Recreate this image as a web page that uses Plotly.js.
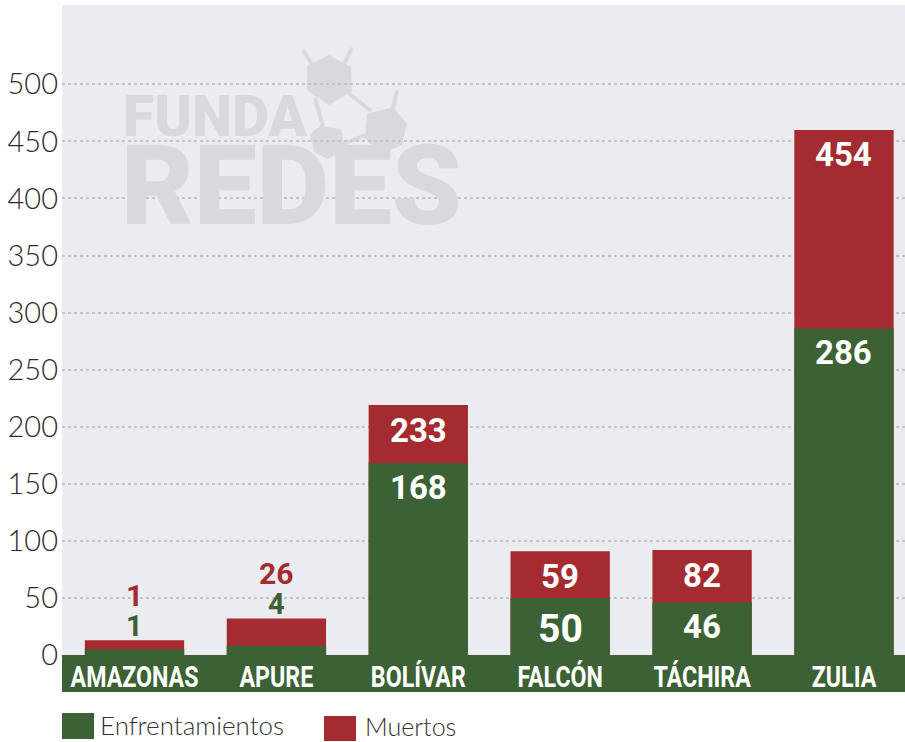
<!DOCTYPE html>
<html><head><meta charset="utf-8">
<script src="https://cdn.plot.ly/plotly-3.0.1.min.js"></script>
<style>html,body{margin:0;padding:0;background:#fff}#chart{width:905px;height:742px}</style>
</head><body><div id="chart"></div>
<script>
// ---- data ----
const categories = ['AMAZONAS', 'APURE', 'BOLÍVAR', 'FALCÓN', 'TÁCHIRA', 'ZULIA'];
// printed values
const enfrentamientos = [1, 4, 168, 50, 46, 286];
const muertos = [1, 26, 233, 59, 82, 454];
// bar heights as drawn in the picture (read against the gridlines)
const enfrentamientosBar = [5, 8, 168, 50, 46, 286];
const muertosBar = [13, 32, 219, 91, 92, 460];
const yTicks = [0, 50, 100, 150, 200, 250, 300, 350, 400, 450, 500];
const seriesNames = ['Enfrentamientos', 'Muertos'];

// ---- styling ----
const GREEN = '#3c6135', RED = '#a42c30', BG = '#ebecf0', WM = '#d8d9dd';
const W = 905, H = 742, L = 62, R = 0, T = 5, B = 87;
const pw = W - L - R, ph = H - T - B;
const px = x => (x - L) / pw;
const py = y => (H - B - y) / ph;

const traces = [
  {type: 'bar', name: seriesNames[1], x: categories, y: muertosBar,
   marker: {color: RED}, width: 0.7, hoverinfo: 'skip', showlegend: false},
  {type: 'bar', name: seriesNames[0], x: categories, y: enfrentamientosBar,
   marker: {color: GREEN}, width: 0.7, hoverinfo: 'skip', showlegend: false}
];

const numFont = 'Roboto, "Liberation Sans", sans-serif';
const ann = [];
categories.forEach((c, i) => {
  const big = enfrentamientosBar[i] > 20;
  if (big) {
    ann.push({x: c, y: muertosBar[i], xref: 'x', yref: 'y', text: String(muertos[i]),
      showarrow: false, yanchor: 'middle', yshift: -25,
      font: {family: numFont, weight: 'bold', size: 33, color: '#ffffff'}});
    const large = c === 'FALCÓN';
    ann.push({x: c, y: enfrentamientosBar[i], xref: 'x', yref: 'y', text: String(enfrentamientos[i]),
      showarrow: false, yanchor: 'middle', yshift: large ? -31 : -24,
      font: {family: numFont, weight: 'bold', size: large ? 39 : 33, color: '#ffffff'}});
  } else {
    ann.push({x: c, y: muertosBar[i], xref: 'x', yref: 'y', text: String(muertos[i]),
      showarrow: false, yanchor: 'middle', yshift: 45,
      font: {family: numFont, weight: 'bold', size: 30, color: RED}});
    ann.push({x: c, y: muertosBar[i], xref: 'x', yref: 'y', text: String(enfrentamientos[i]),
      showarrow: false, yanchor: 'middle', yshift: 14,
      font: {family: numFont, weight: 'bold', size: 29, color: GREEN}});
  }
});

// watermark text
ann.push({xref: 'paper', yref: 'paper', x: px(121), y: py(117), xanchor: 'left', yanchor: 'middle',
  text: 'FUNDA', showarrow: false, font: {family: numFont, weight: 900, size: 57, color: WM}});
ann.push({xref: 'paper', yref: 'paper', x: px(119), y: py(185), xanchor: 'left', yanchor: 'middle',
  text: 'REDES', showarrow: false, font: {family: numFont, weight: 900, size: 112, color: WM}});

// legend text
const legFont = 'Lato, "Open Sans", sans-serif';
ann.push({xref: 'paper', yref: 'paper', x: px(98), y: py(725), xanchor: 'left', yanchor: 'middle',
  text: seriesNames[0], showarrow: false, font: {family: legFont, weight: 300, size: 26, color: '#333333'}});
ann.push({xref: 'paper', yref: 'paper', x: px(363), y: py(726), xanchor: 'left', yanchor: 'middle',
  text: seriesNames[1], showarrow: false, font: {family: legFont, weight: 300, size: 25, color: '#333333'}});

// decorative logo hexagons
function poly(pts) {
  return 'M' + pts.map(p => px(p[0]) + ',' + py(p[1])).join('L') + 'Z';
}
function line(a, b) {
  return {type: 'line', xref: 'paper', yref: 'paper', layer: 'below',
    x0: px(a[0]), y0: py(a[1]), x1: px(b[0]), y1: py(b[1]), line: {color: WM, width: 4}};
}
const shapes = [
  // x-axis band
  {type: 'rect', xref: 'paper', yref: 'paper', layer: 'below', x0: 0, x1: 1, y0: py(692), y1: 0,
   fillcolor: GREEN, line: {width: 0}},
  // legend squares
  {type: 'rect', xref: 'paper', yref: 'paper', x0: px(62), x1: px(94), y0: py(739), y1: py(713),
   fillcolor: GREEN, line: {width: 0}},
  {type: 'rect', xref: 'paper', yref: 'paper', x0: px(324), x1: px(356), y0: py(741), y1: py(716),
   fillcolor: RED, line: {width: 0}},
  // logo
  {type: 'path', xref: 'paper', yref: 'paper', layer: 'below', fillcolor: WM, line: {width: 0},
   path: poly([[329, 55], [351, 67], [352, 91], [329, 105], [307, 90], [307, 66]])},
  {type: 'path', xref: 'paper', yref: 'paper', layer: 'below', fillcolor: WM, line: {width: 0},
   path: poly([[320, 126], [341, 129], [345, 148], [328, 159], [314, 152], [310, 134]])},
  {type: 'path', xref: 'paper', yref: 'paper', layer: 'below', fillcolor: WM, line: {width: 0},
   path: poly([[367, 114], [393, 107], [407, 124], [402, 145], [380, 154], [365, 138]])},
  line([312, 64], [303, 50]), line([344, 64], [352, 48]),
  line([315, 98], [323, 127]), line([347, 92], [371, 111]),
  line([343, 144], [368, 134]), line([393, 109], [397, 90])
];

const layout = {
  width: W, height: H,
  margin: {l: L, r: R, t: T, b: B, pad: 0},
  paper_bgcolor: '#ffffff', plot_bgcolor: BG,
  barmode: 'overlay', bargap: 0.3,
  showlegend: false,
  xaxis: {type: 'category', range: [-0.511, 5.43], showgrid: false, zeroline: false,
    showline: false, ticks: '', ticklabelstandoff: 2,
    tickfont: {family: 'Roboto, "Liberation Sans", sans-serif', weight: 'bold', size: 29, color: '#ffffff'}},
  yaxis: {range: [0, 569.5], tickvals: yTicks, ticktext: yTicks.map(String),
    showgrid: true, gridcolor: '#c3c4c8', gridwidth: 2, griddash: 'dot',
    zeroline: false, showline: false, ticks: '', ticklabelstandoff: 3,
    tickfont: {family: legFont, weight: 300, size: 29, color: '#2b2b2b'}},
  shapes: shapes,
  annotations: ann
};

Plotly.newPlot('chart', traces, layout, {displayModeBar: false, staticPlot: true}).then(gd => {
  // condense the category labels horizontally (narrow poster face)
  gd.querySelectorAll('.xtick text').forEach(t => {
    const w = t.getComputedTextLength();
    t.setAttribute('textLength', (w * 0.8).toFixed(1));
    t.setAttribute('lengthAdjust', 'spacingAndGlyphs');
  });
});
</script></body></html>
